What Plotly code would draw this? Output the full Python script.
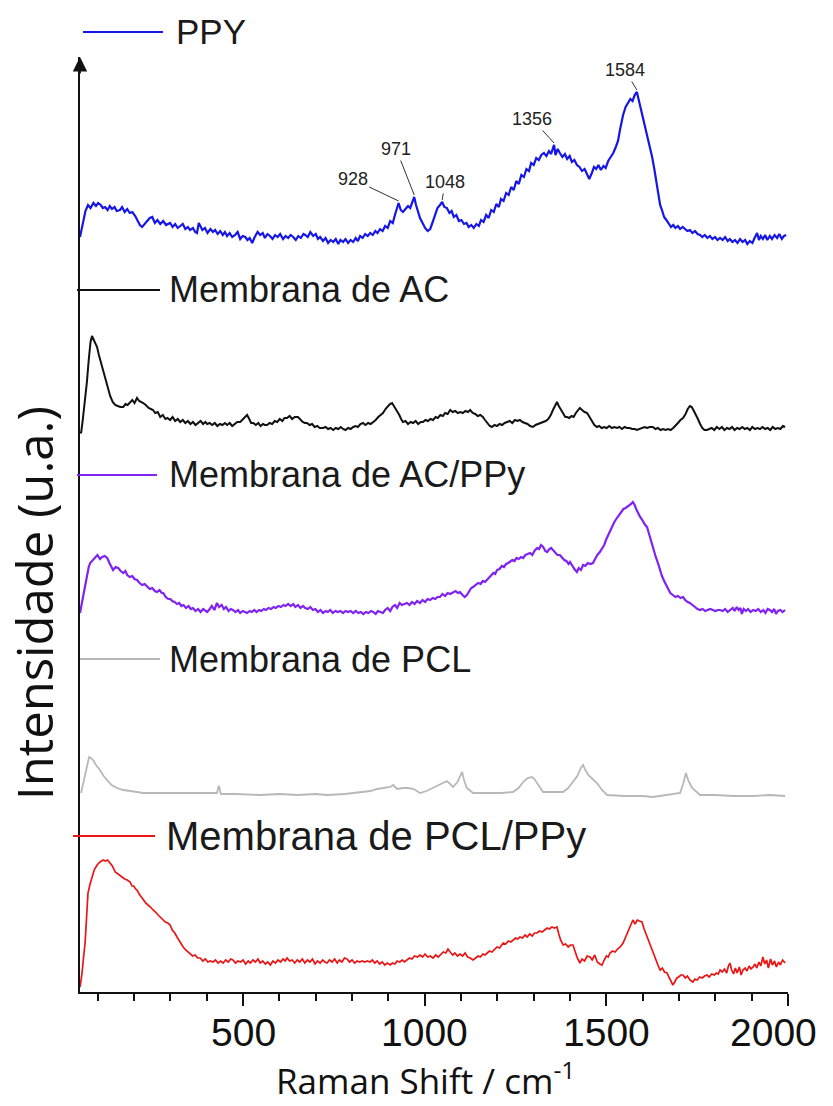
import plotly.graph_objects as go

# ---------------- data: (Raman shift cm-1, intensity a.u.) ----------------
ppy_pts = [(51,8),(56,18),(60,23),(66,34),(73,40),(80,37),(88,42),(95,39),(101,42),(108,40),(114,37),(120,38),
 (127,35),(133,39),(139,36),(146,38),(152,34),(161,35),(167,38),(174,33),(181,36),(188,32),(195,33),(203,29),
 (210,24),(216,20),(222,18),(229,21),(236,23),(243,27),(250,28),(257,22),(264,25),(272,21),(280,24),(288,20),
 (299,22),(306,18),(313,21),(320,17),(327,19),(334,21),(341,16),(348,18),(354,15),(362,17),(368,13),(373,12),
 (378,22),(382,19),(388,15),(395,17),(402,12),(410,16),(417,13),(423,15),(430,11),(437,14),(444,10),(450,13),
 (456,9),(463,12),(470,8),(478,10),(485,13),(492,6),(499,9),(506,8),(512,5),(518,7),(525,2),(532,8),(540,13),
 (547,10),(554,12),(560,7),(567,11),(574,9),(581,6),(588,10),(595,8),(602,11),(610,6),(617,9),(624,7),(631,10),
 (638,8),(645,5),(652,9),(659,7),(666,11),(671,10),(678,8),(685,13),(693,9),(700,11),(706,6),(712,8),(720,4),
 (727,7),(734,2),(741,5),(748,3),(755,6),(762,1),(768,5),(775,3),(782,6),(789,2),(796,5),(803,3),(810,7),
 (816,4),(822,9),(829,7),(836,11),(843,9),(850,12),(857,10),(864,14),(870,12),(877,16),(884,14),(891,19),
 (898,17),(905,24),(912,22),(918,30),(922,36),(928,42),(934,35),(940,33),(947,36),(954,39),(960,37),(966,44),
 (971,48),(976,40),(981,33),(987,27),(994,22),(1001,17),(1008,14),(1015,16),(1021,22),(1028,30),(1035,37),
 (1042,40),(1048,43),(1054,38),(1061,37),(1068,32),(1074,34),(1080,28),(1087,30),(1094,24),(1101,25),(1108,21),
 (1115,22),(1121,18),(1128,20),(1135,17),(1142,21),(1149,19),(1155,25),(1162,23),(1169,30),(1176,27),(1183,35),
 (1190,33),(1197,41),(1204,38),(1210,46),(1217,44),(1224,52),(1231,50),(1238,58),(1245,55),(1252,64),(1259,61),
 (1266,70),(1273,68),(1280,76),(1287,74),(1293,82),(1300,80),(1307,87),(1314,85),(1321,90),(1328,92),(1335,89),
 (1342,94),(1348,91),(1353,97),(1356,100),(1360,90),(1366,96),(1372,92),(1379,88),(1386,91),(1392,86),(1399,89),
 (1405,83),(1412,85),(1419,80),(1426,78),(1433,74),(1440,76),(1447,70),(1453,66),(1460,72),(1466,78),(1472,76),
 (1478,80),(1485,75),(1492,79),(1498,77),(1505,84),(1512,88),(1519,92),(1526,98),(1532,104),(1538,116),
 (1546,130),(1553,138),(1560,143),(1566,146),(1572,144),(1578,150),(1584,153),(1588,147),(1593,139),(1599,131),
 (1606,120),(1612,110),(1620,98),(1626,88),(1632,76),(1637,65),(1643,50),(1648,40),(1653,35),(1659,28),
 (1665,25),(1671,22),(1678,18),(1684,20),(1690,17),(1697,19),(1703,16),(1710,18),(1716,16),(1723,14),(1730,15),
 (1737,12),(1744,14),(1751,11),(1758,10),(1764,8),(1771,10),(1778,7),(1785,9),(1792,6),(1799,8),(1806,5),
 (1813,7),(1820,5),(1827,8),(1834,4),(1840,6),(1847,3),(1854,5),(1861,2),(1868,6),(1875,3),(1882,5),(1888,1),
 (1895,4),(1902,2),(1908,7),(1915,12),(1920,5),(1925,9),(1931,6),(1937,10),(1943,5),(1950,9),(1956,6),(1963,10),
 (1970,7),(1976,11),(1983,6),(1989,9),(1995,10)]

ac_pts = [(51,0),(54,-1),(58,10),(62,22),(65,29),(70,50),(75,72),(80,90),(84,96),(88,93),(93,90),(98,85),
 (103,77),(108,70),(115,62),(120,54),(127,44),(134,36),(141,30),(148,27),(155,26),(162,25),(170,25),(176,28),
 (182,27),(189,30),(195,32),(201,29),(208,34),(214,31),(220,30),(225,29),(232,27),(240,24),(246,23),(252,22),
 (258,19),(265,20),(272,15),(279,17),(286,13),(292,14),(299,12),(306,15),(313,11),(320,13),(327,10),(334,12),
 (341,9),(348,11),(355,8),(362,10),(369,7),(376,9),(383,11),(390,8),(396,10),(401,8),(408,9),(415,7),(422,9),
 (429,6),(436,8),(443,7),(450,9),(456,7),(463,9),(470,6),(477,8),(484,10),(492,10),(498,12),(505,15),(511,17),
 (517,13),(522,9),(528,9),(535,7),(542,9),(548,6),(555,8),(560,7),(566,7),(573,9),(580,8),(587,11),(594,10),
 (601,13),(608,11),(614,14),(621,14),(628,16),(635,13),(642,15),(651,15),(658,12),(664,10),(670,9),(676,9),
 (683,7),(690,8),(697,5),(704,6),(711,4),(720,4),(727,5),(734,3),(741,4),(748,2),(755,4),(762,3),(769,5),
 (775,3),(782,2),(789,4),(796,3),(803,5),(810,6),(816,5),(823,8),(830,9),(837,7),(844,9),(851,8),(858,10),
 (865,12),(872,15),(879,17),(885,19),(892,23),(898,26),(904,28),(910,29),(915,26),(920,24),(924,22),(930,17),
 (935,13),(940,10),(947,11),(954,8),(961,10),(968,9),(975,11),(982,8),(989,10),(995,10),(1002,12),(1009,11),
 (1016,13),(1023,12),(1030,15),(1036,14),(1043,17),(1050,16),(1056,19),(1063,18),(1070,22),(1077,20),(1084,21),
 (1091,19),(1098,20),(1105,19),(1112,21),(1119,20),(1125,22),(1132,19),(1139,18),(1146,16),(1153,17),(1160,15),
 (1166,12),(1172,9),(1179,6),(1185,5),(1192,7),(1199,6),(1206,8),(1213,7),(1220,9),(1227,10),(1234,11),
 (1241,9),(1248,12),(1255,11),(1262,12),(1269,10),(1276,9),(1283,8),(1290,6),(1298,5),(1305,7),(1312,8),
 (1319,9),(1326,10),(1333,11),(1340,13),(1347,17),(1353,22),(1359,27),(1364,30),(1369,26),(1375,22),(1381,18),
 (1387,15),(1392,15),(1398,14),(1404,16),(1410,15),(1416,19),(1422,22),(1427,24),(1433,22),(1440,20),(1447,19),
 (1453,15),(1460,11),(1467,7),(1474,5),(1480,6),(1487,4),(1494,5),(1501,4),(1508,6),(1515,4),(1522,5),(1529,4),
 (1536,5),(1543,3),(1550,5),(1557,4),(1564,4),(1571,3),(1578,3),(1584,2),(1591,3),(1598,4),(1605,5),(1612,4),
 (1619,5),(1628,5),(1635,3),(1642,4),(1649,2),(1656,3),(1663,2),(1670,3),(1677,2),(1684,4),(1690,6),(1697,9),
 (1704,12),(1711,14),(1718,18),(1724,23),(1730,26),(1735,25),(1741,21),(1747,17),(1752,13),(1758,8),(1764,4),
 (1770,2),(1777,2),(1783,3),(1790,4),(1797,2),(1804,5),(1811,3),(1818,5),(1825,2),(1832,4),(1839,3),(1846,5),
 (1853,2),(1860,4),(1867,3),(1874,5),(1881,3),(1888,4),(1895,2),(1902,5),(1909,3),(1916,4),(1923,3),(1930,5),
 (1937,3),(1944,4),(1951,2),(1958,5),(1965,3),(1972,4),(1979,3),(1986,6),(1992,5)]

acppy_pts = [(51,2),(56,12),(60,22),(65,28),(70,40),(75,48),(79,52),(86,55),(93,57),(99,60),(106,56),(112,58),
 (119,59),(126,57),(132,52),(137,48),(142,45),(149,48),(156,47),(163,44),(170,42),(176,44),(181,40),(188,38),
 (195,39),(201,36),(208,35),(215,32),(222,30),(229,31),(236,28),(243,26),(250,27),(257,24),(263,23),(270,25),
 (276,22),(280,22),(287,18),(294,16),(300,16),(305,14),(311,13),(318,11),(324,12),(330,9),(336,10),(343,7),
 (350,9),(356,6),(362,7),(369,4),(376,6),(383,3),(390,6),(396,4),(401,3),(408,6),(414,9),(421,5),(428,12),
 (434,8),(441,10),(447,6),(453,8),(460,4),(466,6),(472,5),(479,3),(486,5),(492,2),(499,4),(505,3),(511,2),
 (518,4),(524,3),(531,5),(537,3),(544,5),(550,4),(557,6),(563,5),(570,7),(577,6),(584,8),(590,7),(597,9),
 (604,8),(611,10),(617,9),(624,11),(631,9),(638,11),(644,8),(651,10),(658,7),(665,9),(671,7),(678,6),(685,8),
 (692,5),(699,6),(706,3),(713,5),(720,2),(727,4),(733,3),(740,5),(747,2),(754,4),(761,3),(768,4),(775,2),
 (782,4),(789,3),(796,4),(803,2),(810,4),(817,2),(824,3),(831,1),(838,3),(845,2),(852,4),(858,3),(865,1),
 (871,4),(877,3),(885,2),(891,5),(898,7),(905,4),(911,8),(918,10),(924,7),(931,12),(937,10),(944,11),(951,12),
 (958,10),(965,13),(972,11),(979,14),(987,12),(994,15),(1001,13),(1008,16),(1015,15),(1022,17),(1029,16),
 (1035,18),(1042,18),(1049,21),(1056,19),(1063,22),(1070,21),(1078,23),(1085,24),(1091,22),(1097,23),(1104,20),
 (1110,18),(1116,20),(1122,24),(1128,27),(1133,28),(1140,30),(1147,32),(1154,31),(1160,34),(1166,33),(1171,35),
 (1177,38),(1183,40),(1189,42),(1194,41),(1199,45),(1206,46),(1212,49),(1218,48),(1224,51),(1230,52),(1235,53),
 (1241,55),(1247,54),(1253,57),(1259,56),(1265,58),(1271,57),(1277,60),(1283,61),(1290,62),(1296,60),(1302,64),
 (1309,67),(1315,66),(1320,70),(1326,68),(1332,64),(1337,63),(1343,66),(1348,67),(1353,65),(1359,62),(1365,60),
 (1372,60),(1378,57),(1384,55),(1390,54),(1396,51),(1400,53),(1406,49),(1412,46),(1419,43),(1424,47),(1430,45),
 (1436,50),(1442,49),(1449,52),(1456,51),(1463,52),(1469,56),(1475,60),(1482,63),(1488,67),(1494,70),(1500,76),
 (1505,80),(1510,85),(1516,88),(1522,93),(1529,97),(1535,100),(1541,104),(1547,106),(1553,107),(1557,108),
 (1562,109),(1568,111),(1573,113),(1578,110),(1582,106),(1587,102),(1593,98),(1599,95),(1605,91),(1612,88),
 (1618,80),(1624,73),(1630,66),(1636,58),(1642,52),(1647,45),(1653,39),(1659,34),(1665,30),(1670,26),(1676,22),
 (1683,20),(1690,18),(1697,19),(1704,17),(1711,18),(1717,15),(1724,13),(1730,12),(1737,10),(1744,8),(1751,6),
 (1758,5),(1765,6),(1772,4),(1779,5),(1786,6),(1793,5),(1800,4),(1807,5),(1813,5),(1820,4),(1827,6),(1834,3),
 (1841,5),(1848,7),(1853,4),(1859,8),(1864,5),(1869,7),(1873,1),(1878,6),(1884,4),(1890,6),(1897,3),(1904,5),
 (1911,4),(1918,6),(1925,3),(1932,5),(1938,2),(1944,6),(1950,5),(1956,3),(1962,6),(1967,1),(1972,4),(1979,5),
 (1985,3),(1992,5)]

pcl_pts = [(54,4),(60,14),(65,24),(70,33),(76,40),(81,39),(87,37),(95,32),(106,27),(116,21),(126,17),(138,12),
 (153,9),(170,7),(190,6),(225,4),(270,4),(320,4),(362,4),(400,4),(428,4),(432,10),(434,11),(437,5),(439,3),
 (480,3),(547,2),(600,3),(650,2),(700,3),(731,2),(780,3),(822,5),(850,6),(869,8),(890,9),(905,10),(913,12),
 (918,10),(924,8),(940,9),(954,9),(970,8),(987,4),(1005,6),(1023,9),(1040,12),(1061,16),(1070,13),(1078,10),
 (1090,15),(1098,22),(1103,25),(1108,17),(1116,9),(1133,4),(1171,4),(1210,4),(1243,5),(1258,9),(1271,15),
 (1283,19),(1295,20),(1302,18),(1309,14),(1318,9),(1326,5),(1350,5),(1381,5),(1395,9),(1408,15),(1420,21),
 (1430,29),(1436,32),(1441,28),(1450,22),(1462,18),(1474,14),(1488,7),(1502,2),(1550,1),(1600,1),(1628,0),
 (1670,2),(1703,4),(1712,14),(1719,24),(1726,16),(1736,9),(1758,2),(1800,2),(1850,1),(1904,1),(1950,2),(1992,1)]

pclppy_pts = [(51,3),(56,15),(60,30),(65,47),(69,72),(73,97),(78,105),(84,113),(90,120),(98,125),(106,128),
 (115,130),(121,129),(127,130),(134,127),(140,124),(148,118),(155,116),(161,114),(167,113),(174,111),(181,110),
 (189,108),(194,104),(199,104),(204,101),(208,100),(214,96),(220,93),(225,90),(232,87),(238,85),(245,83),
 (252,80),(259,78),(266,75),(272,73),(280,70),(286,68),(293,67),(299,65),(305,60),(312,57),(318,53),(324,49),
 (330,46),(335,43),(342,40),(348,38),(354,37),(361,34),(368,35),(375,32),(382,32),(389,29),(396,31),(403,28),
 (410,29),(417,28),(424,30),(431,27),(438,29),(445,27),(452,30),(459,28),(466,31),(472,30),(479,27),(486,29),
 (493,28),(500,30),(507,26),(514,29),(520,27),(527,30),(534,28),(541,31),(547,27),(554,29),(561,26),(568,28),
 (575,25),(582,29),(589,27),(596,30),(603,28),(610,31),(616,29),(621,32),(628,29),(635,30),(642,27),(649,30),
 (656,28),(663,31),(670,27),(677,30),(684,28),(691,31),(698,26),(705,29),(712,27),(719,30),(725,28),(731,27),
 (738,30),(745,28),(752,31),(759,27),(765,30),(772,28),(779,32),(786,31),(793,28),(800,30),(807,27),(814,29),
 (821,28),(828,29),(835,28),(842,29),(849,28),(856,30),(862,27),(869,29),(876,26),(883,28),(890,25),(897,27),
 (905,25),(911,27),(918,26),(924,29),(931,28),(938,30),(944,28),(951,30),(958,32),(965,31),(972,34),(980,33),
 (987,35),(994,33),(1001,36),(1008,33),(1015,34),(1023,32),(1030,35),(1037,33),(1044,36),(1051,38),(1058,37),
 (1064,41),(1070,38),(1077,35),(1083,37),(1090,34),(1097,36),(1104,34),(1111,37),(1118,33),(1125,32),(1133,30),
 (1140,32),(1147,34),(1153,33),(1160,36),(1166,35),(1171,37),(1178,39),(1185,38),(1192,41),(1199,43),(1206,42),
 (1212,45),(1216,47),(1223,46),(1230,49),(1237,48),(1244,50),(1250,52),(1256,51),(1262,53),(1269,52),(1276,55),
 (1282,53),(1289,56),(1296,54),(1302,57),(1309,57),(1316,59),(1323,58),(1330,60),(1337,62),(1343,61),(1350,63),
 (1357,62),(1364,63),(1369,56),(1374,50),(1381,45),(1388,46),(1395,43),(1401,45),(1408,45),(1414,38),(1420,32),
 (1427,27),(1433,31),(1440,29),(1447,34),(1455,33),(1461,30),(1468,35),(1475,28),(1482,26),(1488,25),(1494,30),
 (1500,34),(1505,33),(1510,37),(1517,39),(1524,38),(1531,41),(1538,43),(1546,47),(1552,52),(1558,58),(1564,63),
 (1569,67),(1573,70),(1579,66),(1585,70),(1591,69),(1598,68),(1604,61),(1610,55),(1615,50),(1620,47),(1626,40),
 (1632,33),(1638,27),(1643,24),(1648,20),(1654,22),(1660,18),(1667,17),(1672,13),(1677,9),(1683,5),(1688,8),
 (1694,12),(1699,13),(1705,15),(1711,15),(1717,12),(1723,14),(1730,10),(1738,8),(1744,11),(1750,10),(1757,13),
 (1764,12),(1770,14),(1777,15),(1783,13),(1790,16),(1797,15),(1803,17),(1808,16),(1813,20),(1819,18),(1825,21),
 (1831,17),(1836,24),(1840,27),(1845,20),(1850,16),(1855,22),(1860,17),(1866,23),(1871,15),(1876,20),(1882,22),
 (1887,19),(1893,24),(1898,21),(1904,23),(1909,26),(1914,22),(1920,28),(1925,24),(1931,33),(1936,26),(1941,30),
 (1946,22),(1952,31),(1957,25),(1963,29),(1968,23),(1974,28),(1979,25),(1985,30),(1992,27)]

series_names = ["PPY", "Membrana de AC", "Membrana de AC/PPy", "Membrana de PCL", "Membrana de PCL/PPy"]
series_pts = [ppy_pts, ac_pts, acppy_pts, pcl_pts, pclppy_pts]
offsets = [747, 560, 377, 195, 2]   # vertical stacking offsets (a.u.)

peak_labels = [928, 971, 1048, 1356, 1584]
x_ticks = [500, 1000, 1500, 2000]

# ---------------- styles ----------------
colors = ["#1616e6", "#111111", "#7f22f2", "#b8b8b8", "#ea1515"]
widths = [2.2, 2.0, 2.2, 1.8, 1.7]
label_sizes = [35, 36, 36, 36, 40]

W, H = 833, 1106
L, R, T, B = 80, 45, 57, 114
pw, ph = W - L - R, H - T - B

def px_x(p):
    return (p - L) / pw

def px_y(p):
    return (H - B - p) / ph

fig = go.Figure()
for name, pts, off, c, w in zip(series_names, series_pts, offsets, colors, widths):
    fig.add_trace(go.Scatter(x=[p[0] for p in pts], y=[p[1] + off for p in pts], mode="lines",
                             name=name, line=dict(color=c, width=w), showlegend=False))

# legend-like labels
leg_pos = [(83, 163, 32, 174), (77, 160, 290, 167), (77, 157, 475, 167), (80, 160, 659, 167), (73, 155, 836, 164)]
for name, c, fs, (x0, x1, yy, tx) in zip(series_names, colors, label_sizes, leg_pos):
    fig.add_shape(type="line", xref="paper", yref="paper", x0=px_x(x0), x1=px_x(x1),
                  y0=px_y(yy), y1=px_y(yy), line=dict(color=c, width=2))
    fig.add_annotation(xref="paper", yref="paper", x=px_x(tx), y=px_y(yy), text=name,
                       showarrow=False, xanchor="left", yanchor="middle",
                       font=dict(family="Liberation Sans, Arial", size=fs, color="#1a1a1a"))

# peak labels on PPY
ppy_lookup = dict(ppy_pts)
lab_off = {928: (-46, -22), 971: (-18, -46), 1048: (3, -18), 1356: (-22, -24), 1584: (-12, -20)}
for pk in peak_labels:
    yv = ppy_lookup[pk] + offsets[0] + 2
    ax, ay = lab_off[pk]
    fig.add_annotation(x=pk, y=yv, xref="x", yref="y", text=str(pk), showarrow=True,
                       arrowhead=0, arrowwidth=1, arrowcolor="#333", ax=ax, ay=ay,
                       font=dict(family="Liberation Sans, Arial", size=18, color="#222"))

# y-axis arrow
fig.add_annotation(xref="paper", yref="paper", x=0, y=1.0, ax=0, ay=18, text="",
                   showarrow=True, arrowhead=2, arrowsize=1.6, arrowwidth=1.8, arrowcolor="#111")

# x tick labels (last one pulled inside the picture, as in the original)
tick_shift = {500: 0, 1000: 0, 1500: 0, 2000: -15}
for tv in x_ticks:
    fig.add_annotation(xref="x", yref="paper", x=tv, y=px_y(1009), text=str(tv), showarrow=False,
                       xanchor="center", yanchor="top", xshift=tick_shift[tv],
                       font=dict(family="Liberation Sans, Arial", size=39, color="#111"))

# axis titles
fig.add_annotation(xref="paper", yref="paper", x=px_x(425), y=px_y(1106),
                   text="Raman Shift / cm<sup>-1</sup>", showarrow=False,
                   xanchor="center", yanchor="bottom",
                   font=dict(family="Open Sans", size=35, color="#111"))
fig.add_annotation(xref="paper", yref="paper", x=px_x(34), y=px_y(603),
                   text="Intensidade (u.a.)", showarrow=False, textangle=-90,
                   xanchor="center", yanchor="middle",
                   font=dict(family="Open Sans", size=49, color="#111"))

fig.update_xaxes(range=[51, 2000], tickvals=x_ticks, ticks="outside", ticklen=12, tickwidth=1.5,
                 tickcolor="#111", showline=True, linecolor="#111", linewidth=1.5, showgrid=False,
                 zeroline=False, automargin=False, showticklabels=False,
                 minor=dict(dtick=100, tick0=0, ticks="outside", ticklen=7, tickwidth=1.5, tickcolor="#111"))
fig.update_yaxes(range=[0, 935], showticklabels=False, ticks="", showline=True, linecolor="#111",
                 linewidth=1.5, showgrid=False, zeroline=False, automargin=False)

fig.update_layout(width=W, height=H, margin=dict(l=L, r=R, t=T, b=B, autoexpand=False),
                  plot_bgcolor="white", paper_bgcolor="white")

fig.write_html("out.html")
